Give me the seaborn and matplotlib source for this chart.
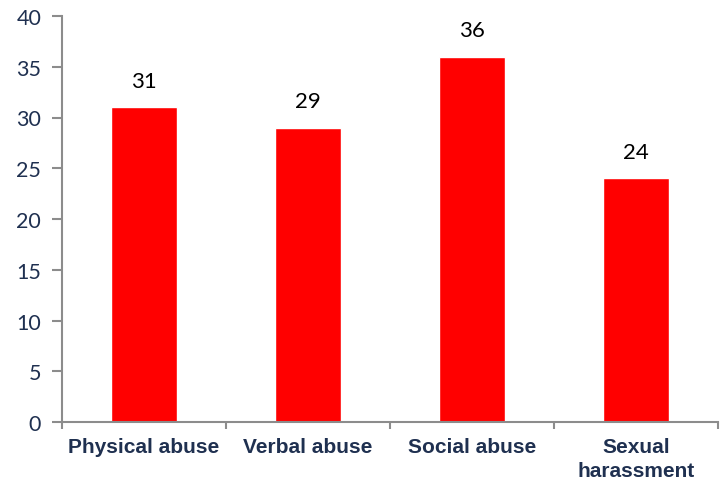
import matplotlib
matplotlib.use("Agg")
import matplotlib.pyplot as plt
import seaborn as sns
import pandas as pd

categories = ["Physical abuse", "Verbal abuse", "Social abuse", "Sexual\nharassment"]
values = [31, 29, 36, 24]
yticks = [0, 5, 10, 15, 20, 25, 30, 35, 40]

sns.set_theme(style="white")
plt.rcParams['font.family'] = ['Lato', 'DejaVu Sans']

text_color = "#1F3050"
axis_color = "#8C8C8C"

df = pd.DataFrame({"cat": categories, "val": values})

fig = plt.figure(figsize=(7.21, 4.81), dpi=100)
ax = fig.add_axes([62/721, 58/481, 656/721, 406/481])
sns.barplot(data=df, x="cat", y="val", color="#FF0000", width=0.4, saturation=1, ax=ax)

ax.set_xlim(-0.5, len(categories) - 0.5)
ax.set_ylim(0, 40)
ax.set_yticks(yticks)
ax.set_yticklabels([str(t) for t in yticks], fontsize=15.5, color=text_color)
ax.set_xlabel("")
ax.set_ylabel("")

ax.set_xticks(range(len(categories)))
ax.set_xticklabels(categories, fontsize=15, fontweight="bold", color=text_color,
                   family=["Liberation Sans", "DejaVu Sans"], linespacing=1.3)
ax.set_xticks([i - 0.5 for i in range(len(categories) + 1)], minor=True)
ax.tick_params(axis="x", which="major", length=0, pad=11)
ax.tick_params(axis="x", which="minor", length=5, width=1.5, color=axis_color, direction="out", bottom=True)
ax.tick_params(axis="y", which="major", length=7, width=1.5, color=axis_color, direction="out", left=True, pad=8)

for s in ["top", "right"]:
    ax.spines[s].set_visible(False)
for s in ["left", "bottom"]:
    ax.spines[s].set_color(axis_color)
    ax.spines[s].set_linewidth(1.5)

for i, v in enumerate(values):
    ax.annotate(str(v), xy=(i, v), xytext=(0, 12), textcoords="offset points",
                ha="center", va="bottom", fontsize=16, color="black")

fig.savefig("out.png", dpi=100)
